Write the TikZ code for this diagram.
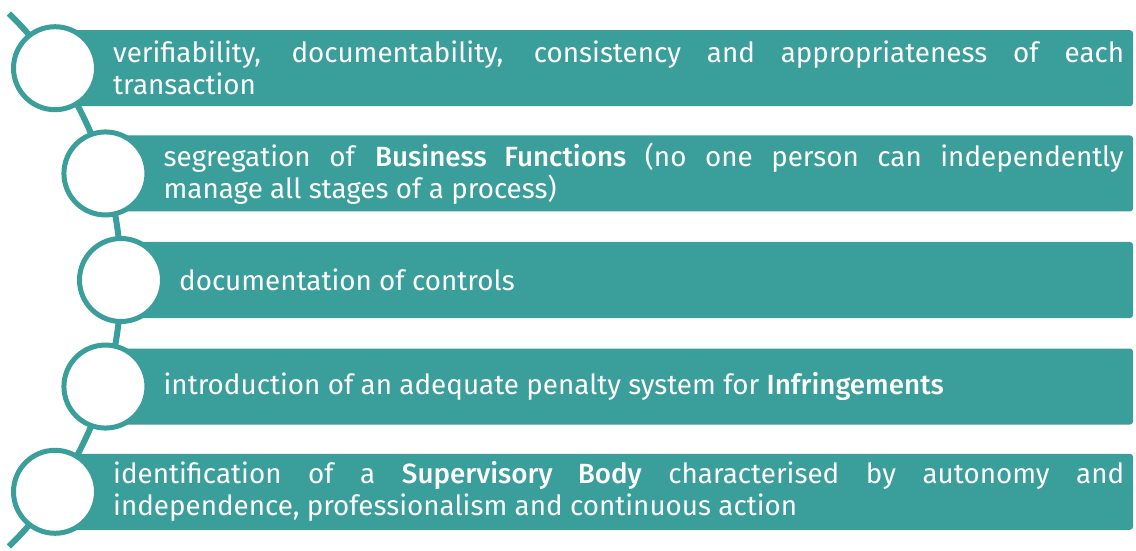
\documentclass[tikz,border=0pt]{standalone}
\usepackage{fontspec}
\setmainfont{Fira Sans}[BoldFont={Fira Sans Medium}]
\usetikzlibrary{calc}
\definecolor{barteal}{HTML}{3A9E9B}

\begin{document}
\begin{tikzpicture}[x=1pt,y=1pt,
    bar/.style={fill=barteal, rounded corners=3pt},
    ring/.style={circle, draw=barteal, line width=5pt, fill=white,
                 minimum size=83pt, inner sep=0pt},
    txt/.style={anchor=west, text=white, align=justify, inner sep=0pt,
                font=\fontsize{27.8}{32}\selectfont}]
                \useasboundingbox (0,0) rectangle (1136,550);
                % centre of the big arc and the right edge of the bars
                \coordinate (O) at (-252,270);
                \coordinate (edge) at (1133,0);
                \coordinate (top) at ($(O)+(45.6:373)$);
                \coordinate (c1) at ($(O)+(34.6:373)$);
                \coordinate (c2) at ($(O)+(16.6:373)$);
                \coordinate (c3) at ($(O)+(0:373)$);
                \coordinate (c4) at ($(O)+(-16.6:373)$);
                \coordinate (c5) at ($(O)+(-34.6:373)$);
                % bars behind the rings
                \fill[bar] ($(c1)+(0,-38)$) rectangle ($(c1 -| edge)+(0,38)$);
                \fill[bar] ($(c2)+(0,-38)$) rectangle ($(c2 -| edge)+(0,38)$);
                \fill[bar] ($(c3)+(0,-38)$) rectangle ($(c3 -| edge)+(0,38)$);
                \fill[bar] ($(c4)+(0,-38)$) rectangle ($(c4 -| edge)+(0,38)$);
                \fill[bar] ($(c5)+(0,-38)$) rectangle ($(c5 -| edge)+(0,38)$);
                % the spine through the rings
                \draw[barteal, line width=6pt] (top) arc[start angle=45.6, end angle=-45.6, radius=373];
                \node[ring] (r1) at (c1) {};
                \node[ring] (r2) at (c2) {};
                \node[ring] (r3) at (c3) {};
                \node[ring] (r4) at (c4) {};
                \node[ring] (r5) at (c5) {};
                % texts
                \node[txt, text width=1011pt] (t1) at ($(c1)+(58,0)$)
                    {verifiability, documentability, consistency and appropriateness of each\linebreak transaction};
                \node[txt, text width=960pt] (t2) at ($(c2)+(58,0)$)
                    {segregation of \textbf{Business Functions} (no one person can independently\linebreak manage all stages of a process)};
                \node[txt, text width=945pt] (t3) at ($(c3)+(58,0)$)
                    {documentation of controls};
                \node[txt, text width=960pt] (t4) at ($(c4)+(58,0)$)
                    {introduction of an adequate penalty system for \textbf{Infringements}};
                \node[txt, text width=1011pt] (t5) at ($(c5)+(58,0)$)
                    {identification of a \textbf{Supervisory Body} characterised by autonomy and\linebreak independence, professionalism and continuous action};
            \end{tikzpicture}
\end{document}
